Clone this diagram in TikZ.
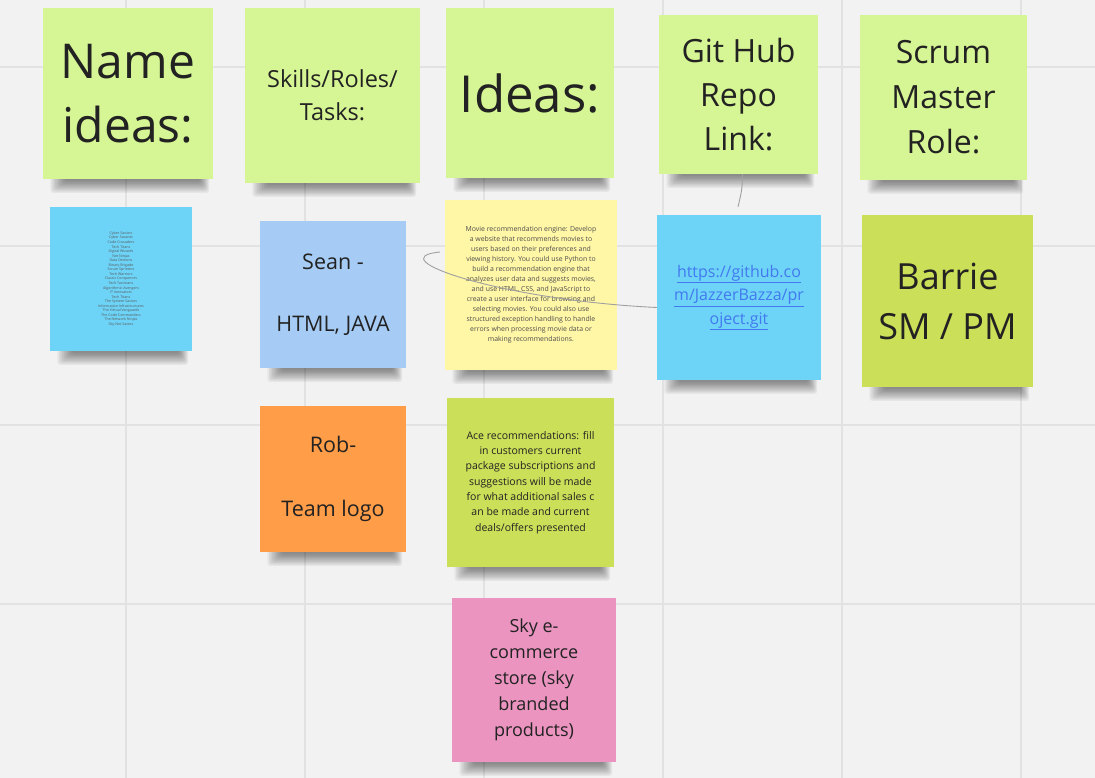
\documentclass[tikz,border=0pt]{standalone}
\usepackage{fontspec}
\setmainfont{Open Sans}
\usetikzlibrary{calc}

\definecolor{board}{HTML}{F2F2F2}
\definecolor{gridline}{HTML}{E2E2E2}
\definecolor{notelime}{HTML}{D6F594}
\definecolor{noteolive}{HTML}{CBDF58}
\definecolor{notecyan}{HTML}{6DD4F8}
\definecolor{noteblue}{HTML}{A6CCF5}
\definecolor{noteorange}{HTML}{FF9D48}
\definecolor{noteyellow}{HTML}{FFF6A6}
\definecolor{notepink}{HTML}{EA94BF}
\definecolor{ink}{HTML}{222222}
\definecolor{linkblue}{HTML}{4279EE}
\definecolor{wire}{HTML}{A0A0A0}

\newcommand\notefont[2]{\fontsize{#1}{#2}\selectfont}

\pgfdeclarelayer{board}
\pgfdeclarelayer{shadow}
\pgfsetlayers{board,shadow,main}

\begin{document}
\begin{tikzpicture}[x=1pt,y=-1pt,
  sticky/.style={rectangle, inner sep=0pt, align=center, text=ink},
  wire/.style={draw=wire, line width=0.9pt}]

\useasboundingbox (0,0) rectangle (1095,778);

% board with its grid
\begin{pgfonlayer}{board}
  \fill[board] (0,0) rectangle (1095,778);
  \foreach \x in {126,305,484,663,842,1021}
    \draw[gridline, line width=1.5pt] (\x,0) -- (\x,778);
  \foreach \y in {67,246,425,604}
    \draw[gridline, line width=1.5pt] (0,\y) -- (1095,\y);
\end{pgfonlayer}

% column headers
\node[sticky, fill=notelime, minimum width=170pt, minimum height=171pt,
      font=\notefont{48}{64}] (nameideas) at (128,93.5) {\raisebox{0pt}{Name}\\ideas:};
\node[sticky, fill=notelime, minimum width=175pt, minimum height=175pt,
      font=\notefont{23.5}{33}] (skills) at (332.5,95.5) {Skills/Roles/\\Tasks:};
\node[sticky, fill=notelime, minimum width=168pt, minimum height=170pt,
      font=\notefont{51}{64}] (ideas) at (530,93) {Ideas:};
\node[sticky, fill=notelime, minimum width=159pt, minimum height=159pt,
      font=\notefont{32}{44}] (githeader) at (738.5,94.5) {Git Hub\\Repo\\Link:};
\node[sticky, fill=notelime, minimum width=167pt, minimum height=165pt,
      font=\notefont{32}{45}] (scrum) at (943.5,97.5) {Scrum\\Master\\Role:};

% name list
\node[sticky, fill=notecyan, minimum width=142pt, minimum height=144pt,
      font=\notefont{3.6}{4.55}, text=ink!75] (names) at (121,279)
  {Cyber Saviors\\Cyber Savants\\Code Crusaders\\Tech Titans\\Digital Wizards\\
   Net Ninjas\\Data Demons\\Binary Brigade\\Scrum Sprinters\\Tech Warriors\\
   Classic Conquerors\\Tech Tacticians\\Algorithmic Avengers\\IT Innovators\\
   Tech Titans\\The System Saviors\\Information Infrastructures\\
   The Virtual Vanguards\\The Code Commanders\\The Network Ninjas\\Sky-Net Savers};

% team members
\node[sticky, fill=noteblue, minimum width=146pt, minimum height=147pt,
      font=\notefont{21.5}{31}] (sean) at (333,294.5) {Sean -\\[31pt]HTML, JAVA};
\node[sticky, fill=noteorange, minimum width=146pt, minimum height=146pt,
      font=\notefont{21.5}{32}] (rob) at (333,479) {Rob-\\[32pt]Team logo};

% project ideas
\node[sticky, fill=noteyellow, minimum width=172pt, minimum height=170pt,
      font=\notefont{6.9}{10}, text=ink!80] (movie) at (531,285)
  {Movie recommendation engine: Develop\\
   a website that recommends movies to\\
   users based on their preferences and\\
   viewing history. You could use Python to\\
   build a recommendation engine that\\
   analyzes user data and suggests movies,\\
   and use HTML, CSS, and JavaScript to\\
   create a user interface for browsing and\\
   selecting movies. You could also use\\
   structured exception handling to handle\\
   errors when processing movie data or\\
   making recommendations.};
\node[sticky, fill=noteolive, minimum width=167pt, minimum height=169pt,
      font=\notefont{10.5}{15.3}] (ace) at (530.5,482.5)
  {Ace recommendations: fill\\
   in customers current\\
   package subscriptions and\\
   suggestions will be made\\
   for what additional sales c\\
   an be made and current\\
   deals/offers presented};
\node[sticky, fill=notepink, minimum width=164pt, minimum height=164pt,
      font=\notefont{18}{26}] (shop) at (534,680)
  {Sky e-\\commerce\\store (sky\\branded\\products)};

% repository link and scrum master
\node[sticky, fill=notecyan, minimum width=164pt, minimum height=165pt,
      font=\notefont{16}{23.5}, text=linkblue] (gitlink) at (739,297.5)
  {\underline{https://github.co}\\\underline{m/JazzerBazza/pr}\\\underline{oject.git}};
\node[sticky, fill=noteolive, minimum width=171pt, minimum height=172pt,
      font=\notefont{36}{50}] (barrie) at (947.5,301) {Barrie\\SM / PM};

% soft drop shadows under every note
\begin{pgfonlayer}{shadow}
  \foreach \n in {nameideas,skills,ideas,githeader,scrum,names,sean,rob,
                  movie,ace,shop,gitlink,barrie}{
    \foreach \i in {0,...,9}{
      \fill[black, opacity=0.05, rounded corners=3pt]
        ($(\n.south west)+(22-1.6*\i,-3)$) rectangle ($(\n.south east)+(-13+\i,2+1.3*\i)$);
    }
  }
\end{pgfonlayer}

% connectors
\coordinate (hook) at (440,252);
\draw[wire] ($(githeader.south)+(4,0)$) .. controls (742,190) .. ($(gitlink.north)+(-1,-8)$);
\draw[wire] ($(gitlink.west)+(0,10)$) .. controls (500,300) and (378,258) .. (hook);

\end{tikzpicture}
\end{document}
